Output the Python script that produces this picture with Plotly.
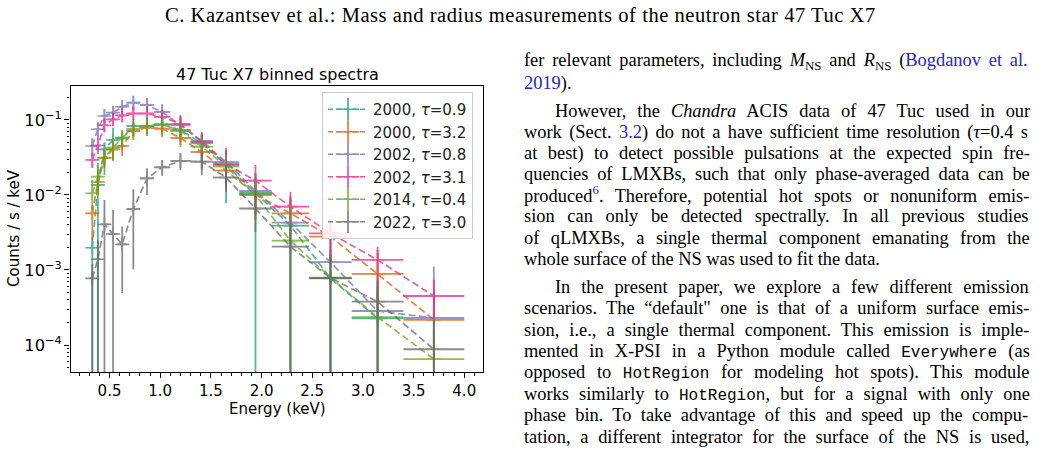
import plotly.graph_objects as go

# ---------------- chart data ----------------
energy = [0.33, 0.385, 0.45, 0.535, 0.625, 0.735, 0.87, 1.02, 1.20, 1.41, 1.65, 1.94, 2.285, 2.68, 3.145, 3.70]
energy_halfwidth = [0.025, 0.03, 0.035, 0.045, 0.045, 0.065, 0.07, 0.08, 0.10, 0.11, 0.13, 0.16, 0.185, 0.21, 0.255, 0.30]

labels = ["2000, <i>τ</i>=0.9", "2000, <i>τ</i>=3.2", "2002, <i>τ</i>=0.8",
          "2002, <i>τ</i>=3.1", "2014, <i>τ</i>=0.4", "2022, <i>τ</i>=3.0"]
colors = ["#1b9e77", "#d95f02", "#7570b3", "#e7298a", "#66a61e", "#666666"]

teal_y = [0.00198, 0.0136, 0.0406, 0.0541, 0.0567, 0.0832, 0.0832, 0.0871, 0.0736, 0.0489, 0.0251, 0.01063, 0.0039, 0.000775, 0.000226, None]
teal_hi = [0.00275, 0.0267, 0.0494, 0.079, 0.0677, 0.097, 0.107, 0.107, 0.092, 0.063, 0.0398, 0.0196, 0.0097, 0.00185, 0.0006, None]
teal_lo = [0, 0, 0.0185, 0.0284, 0.0406, 0.061, 0.0645, 0.0645, 0.05, 0.0342, 0.0078, 0, 0, 0, 0, None]

orange_y = [0.0057, 0.0149, 0.0311, 0.0404, 0.045, 0.0714, 0.0789, 0.0766, 0.0575, 0.0374, 0.0212, 0.01016, 0.0057, 0.00278, 0.000885, 0.000216]
orange_hi = [0.0074, 0.0203, 0.04, 0.054, 0.059, 0.088, 0.1, 0.097, 0.074, 0.051, 0.031, 0.0158, 0.0091, 0.0049, 0.00185, 0.00051]
orange_lo = [0.0025, 0.01, 0.0229, 0.0293, 0.033, 0.054, 0.061, 0.059, 0.0437, 0.0267, 0.0136, 0.0054, 0.0029, 0.0012, 0.00029, 0]

purple_y = [0.045, 0.0752, 0.113, 0.125, 0.150, 0.170, 0.158, 0.128, 0.085, 0.0525, 0.0275, 0.0113, 0.00428, 0.00127, 0.000284, 0.000229]
purple_hi = [0.0575, 0.094, 0.14, 0.154, 0.185, 0.209, 0.197, 0.163, 0.117, 0.067, 0.0424, 0.0169, 0.0074, 0.0023, 0.00074, 0.00111]
purple_lo = [0.033, 0.0575, 0.091, 0.1, 0.124, 0.136, 0.128, 0.1, 0.061, 0.0215, 0.0158, 0.0063, 0.0022, 0, 0, 0]

pink_y = [0.0293, 0.0457, 0.085, 0.102, 0.115, 0.122, 0.122, 0.110, 0.0885, 0.0509, 0.0259, 0.0155, 0.00698, 0.00308, 0.00136, 0.00045]
pink_hi = [0.0363, 0.0575, 0.103, 0.124, 0.14, 0.149, 0.149, 0.136, 0.113, 0.069, 0.04, 0.0251, 0.011, 0.0054, 0.00204, 0.00074]
pink_lo = [0.0229, 0.0352, 0.069, 0.083, 0.094, 0.1, 0.1, 0.0885, 0.067, 0.0342, 0.0149, 0.0086, 0.0036, 0.00136, 0.0004, 0.00022]

green_y = [0.01054, 0.01754, 0.0314, 0.0427, 0.0584, 0.0759, 0.0832, 0.0871, 0.0714, 0.0441, 0.024, 0.0100, 0.00246, 0.000789, 0.000236, 0.000065]
green_hi = [0.0158, 0.0251, 0.04, 0.0575, 0.0736, 0.097, 0.106, 0.11, 0.091, 0.061, 0.0342, 0.0158, 0.0074, 0.0016, 0.00054, 0.00016]
green_lo = [0.0063, 0.01, 0.0236, 0.0312, 0.0437, 0.0593, 0.065, 0.067, 0.054, 0.0312, 0.0149, 0.0046, 0, 0, 0, 0]

gray_y = [0.000775, 0.00139, 0.00406, 0.00302, 0.0022, 0.0065, 0.0167, 0.0234, 0.0284, 0.0278, 0.0171, 0.0066, 0.00205, 0.00078, 0.000378, 0.0000877]
gray_hi = [0.0012, 0.0025, 0.0086, 0.0063, 0.0038, 0.0119, 0.0227, 0.0293, 0.0363, 0.0374, 0.0251, 0.0117, 0.004, 0.0016, 0.0007, 0.000216]
gray_lo = [0, 0, 0, 0, 0.000493, 0.00102, 0.01, 0.018, 0.0215, 0.0185, 0.011, 0.0032, 0, 0, 0, 0]

series_y = [teal_y, orange_y, purple_y, pink_y, green_y, gray_y]
series_hi = [teal_hi, orange_hi, purple_hi, pink_hi, green_hi, gray_hi]
series_lo = [teal_lo, orange_lo, purple_lo, pink_lo, green_lo, gray_lo]

x_ticks = [0.5, 1.0, 1.5, 2.0, 2.5, 3.0, 3.5, 4.0]

# ---------------- page text ----------------
header = "C. Kazantsev et al.: Mass and radius measurements of the neutron star 47 Tuc X7"
LINK = "#2424d6"
# (y centre px, indent px, justify, segments)
body_lines = [
    (62, 0, True, [('r', 'fer relevant parameters, including '), ('i', 'M'), ('s', 'NS'), ('r', ' and '), ('i', 'R'), ('s', 'NS'), ('r', ' ('), ('b', 'Bogdanov et al.')]),
    (83, 0, False, [('b', '2019'), ('r', ').')]),
    (111, 31, True, [('r', 'However, the '), ('i', 'Chandra'), ('r', ' ACIS data of 47 Tuc used in our')]),
    (132, 0, True, [('r', 'work (Sect. '), ('b', '3.2'), ('r', ') do not a have sufficient time resolution ('), ('i', 'τ'), ('r', '=0.4 s')]),
    (153, 0, True, [('r', 'at best) to detect possible pulsations at the expected spin fre-')]),
    (174, 0, True, [('r', 'quencies of LMXBs, such that only phase-averaged data can be')]),
    (195, 0, True, [('r', 'produced'), ('bs', '6'), ('r', '. Therefore, potential hot spots or nonuniform emis-')]),
    (216, 0, True, [('r', 'sion can only be detected spectrally. In all previous studies')]),
    (238, 0, True, [('r', 'of qLMXBs, a single thermal component emanating from the')]),
    (259, 0, False, [('r', 'whole surface of the NS was used to fit the data.')]),
    (287, 31, True, [('r', 'In the present paper, we explore a few different emission')]),
    (308, 0, True, [('r', 'scenarios. The “default" one is that of a uniform surface emis-')]),
    (330, 0, True, [('r', 'sion, i.e., a single thermal component. This emission is imple-')]),
    (351, 0, True, [('r', 'mented in X-PSI in a Python module called '), ('m', 'Everywhere'), ('r', ' (as')]),
    (372, 0, True, [('r', 'opposed to '), ('m', 'HotRegion'), ('r', ' for modeling hot spots). This module')]),
    (394, 0, True, [('r', 'works similarly to '), ('m', 'HotRegion'), ('r', ', but for a signal with only one')]),
    (415, 0, True, [('r', 'phase bin. To take advantage of this and speed up the compu-')]),
    (437, 0, True, [('r', 'tation, a different integrator for the surface of the NS is used,')]),
]

W_PX, H_PX = 1040, 452
FS = 18.4
MONO = 16.0
TEXT_LEFT, TEXT_RIGHT = 524, 1030

_up = dict(zip("ABCDEFGHIJKLMNOPQRSTUVWXYZ", [722, 667, 667, 722, 611, 556, 722, 722, 333, 389, 722, 611, 889, 722, 722, 556, 722, 667, 556, 611, 722, 722, 944, 722, 722, 611]))
_lo = dict(zip("abcdefghijklmnopqrstuvwxyz", [444, 500, 444, 500, 444, 333, 500, 500, 278, 278, 500, 278, 778, 500, 500, 500, 500, 333, 389, 278, 500, 500, 722, 500, 500, 444]))
CW = {' ': 250, ',': 250, '.': 250, '-': 333, '(': 333, ')': 333, ':': 278, ';': 278, '=': 564, '"': 408, '“': 444, 'τ': 440}
CW.update(_up)
CW.update(_lo)
for d in "0123456789":
    CW[d] = 500


def seg_width(kind, text):
    if kind == 'm':
        return len(text) * 0.6 * MONO
    size = FS * 0.7 if kind in ('s', 'bs') else FS
    return sum(CW.get(c, 500) for c in text) / 1000.0 * size


def seg_html(kind, text):
    if kind == 'r':
        return text
    if kind == 'i':
        return '<i>' + text + '</i>'
    if kind == 's':
        return '<sub>' + text + '</sub>'
    if kind == 'b':
        return '<span style="color:' + LINK + '">' + text + '</span>'
    if kind == 'bs':
        return '<sup><span style="color:' + LINK + '">' + text + '</span></sup>'
    if kind == 'm':
        return '<span style="font-family:Liberation Mono;font-size:' + str(MONO) + 'px">' + text + '</span>'
    return text


def px_x(p):
    return p / W_PX


def px_y(p):
    return 1 - p / H_PX


fig = go.Figure()

dash = "7px,3.5px"
for name, col, ys, his, los in zip(labels, colors, series_y, series_hi, series_lo):
    plus, minus = [], []
    for v, h, l in zip(ys, his, los):
        if v is None:
            plus.append(None)
            minus.append(None)
        else:
            plus.append(h - v)
            minus.append(v - l if l > 0 else v)
    fig.add_trace(go.Scatter(
        x=energy, y=ys, mode='lines+markers', showlegend=False, opacity=0.75,
        line=dict(color=col, width=1.7, dash=dash),
        marker=dict(symbol='cross-thin', size=10, color=col, line=dict(color=col, width=1.7)),
        error_x=dict(type='data', array=energy_halfwidth, color=col, thickness=1.8, width=0),
        error_y=dict(type='data', symmetric=False, array=plus, arrayminus=minus,
                     color=col, thickness=1.8, width=0),
        hoverinfo='skip'))

# legend entries
for i, (name, col) in enumerate(zip(labels, colors)):
    fig.add_trace(go.Scatter(
        x=[None], y=[None], mode='lines+markers', name=name, opacity=0.8,
        line=dict(color=col, width=1.7, dash="5px,3px"),
        marker=dict(symbol='cross-thin', size=16, color=col, line=dict(color=col, width=1.7))))

axis_font = dict(family='DejaVu Sans', size=15, color='black')
yaxis_font = dict(family='DejaVu Sans', size=13, color='black')
fig.update_layout(
    width=W_PX, height=H_PX, margin=dict(l=0, r=0, t=0, b=0),
    paper_bgcolor='white', plot_bgcolor='white',
    font=dict(family='DejaVu Sans', size=15, color='black'),
    xaxis=dict(domain=[px_x(70.5), px_x(483)], range=[0.115, 4.185],
               tickmode='array', tickvals=x_ticks, tickformat='.1f',
               ticks='outside', ticklen=5, tickwidth=1.2, tickcolor='black',
               showline=True, linecolor='black', linewidth=1.2, mirror=True,
               showgrid=False, zeroline=False, tickfont=axis_font,
               minor=dict(tickmode='linear', tick0=0.0, dtick=0.1, ticks='outside', ticklen=2.5,
                          tickwidth=1, tickcolor='black', showgrid=False)),
    yaxis=dict(domain=[px_y(372), px_y(86)], type='log', range=[-4.36, -0.547],
               dtick=1, exponentformat='power',
               ticks='outside', ticklen=5, tickwidth=1.2, tickcolor='black',
               showline=True, linecolor='black', linewidth=1.2, mirror=True,
               showgrid=False, zeroline=False, tickfont=yaxis_font,
               minor=dict(dtick='D1', ticks='outside', ticklen=2.5, tickwidth=1,
                          tickcolor='black', showgrid=False)),
    legend=dict(x=px_x(322), y=px_y(92), xanchor='left', yanchor='top',
                bgcolor='rgba(255,255,255,0.85)', bordercolor='#cccccc', borderwidth=1,
                font=dict(family='DejaVu Sans', size=15, color='#222222'),
                tracegroupgap=0, itemwidth=40),
)

ann = []
ann.append(dict(text="47 Tuc X7 binned spectra", x=px_x(277), y=px_y(74), xref='paper', yref='paper',
                xanchor='center', yanchor='middle', showarrow=False,
                font=dict(family='DejaVu Sans', size=16, color='black')))
ann.append(dict(text="Energy (keV)", x=px_x(277), y=px_y(409), xref='paper', yref='paper',
                xanchor='center', yanchor='middle', showarrow=False,
                font=dict(family='DejaVu Sans', size=15, color='black')))
ann.append(dict(text="Counts / s / keV", x=px_x(14), y=px_y(228), xref='paper', yref='paper',
                xanchor='center', yanchor='middle', showarrow=False, textangle=-90,
                font=dict(family='DejaVu Sans', size=15, color='black')))
ann.append(dict(text='<span style="letter-spacing:0.55px">' + header + '</span>',
                x=px_x(520), y=px_y(15), xref='paper', yref='paper',
                xanchor='center', yanchor='middle', showarrow=False,
                font=dict(family='Liberation Serif', size=20.5, color='black')))

for yc, indent, justify, segs in body_lines:
    html = ''.join(seg_html(k, t) for k, t in segs)
    if justify:
        natural = sum(seg_width(k, t) for k, t in segs)
        nsp = sum(t.count(' ') for k, t in segs if k not in ('s', 'bs'))
        target = TEXT_RIGHT - TEXT_LEFT - indent
        ws = (target - natural) / max(nsp, 1)
        html = '<span style="word-spacing:%.2fpx">' % ws + html + '</span>'
    ann.append(dict(text=html, x=px_x(TEXT_LEFT + indent), y=px_y(yc), xref='paper', yref='paper',
                    xanchor='left', yanchor='middle', showarrow=False, borderpad=0, borderwidth=0,
                    font=dict(family='Liberation Serif', size=FS, color='black')))

fig.update_layout(annotations=ann)
fig.write_html("out.html")
